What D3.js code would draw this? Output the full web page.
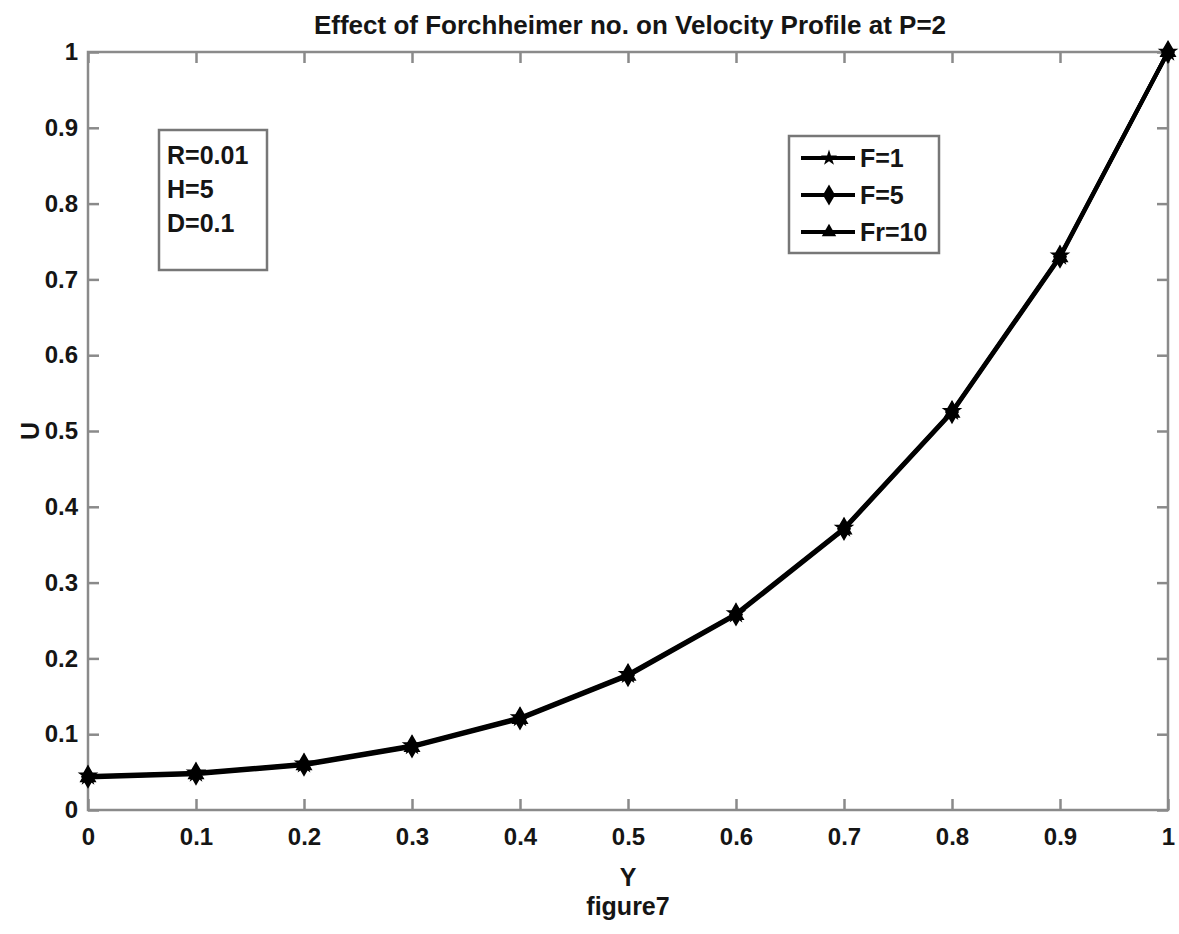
<!DOCTYPE html>
<html>
<head>
<meta charset="utf-8">
<script src="https://cdn.jsdelivr.net/npm/d3@7"></script>
<style>
  body { margin: 0; background: #fff; }
  text { font-family: "Liberation Sans", Arial, sans-serif; font-weight: bold; fill: #151515; }
</style>
</head>
<body>
<svg id="canvas" width="1179" height="934"></svg>
<script>
// values
let yPos = [0, 0.1, 0.2, 0.3, 0.4, 0.5, 0.6, 0.7, 0.8, 0.9, 1]
let uF1  = [0.045, 0.049, 0.061, 0.085, 0.122, 0.179, 0.259, 0.372, 0.526, 0.731, 1.0]
let uF5  = [0.044, 0.048, 0.060, 0.084, 0.121, 0.178, 0.258, 0.371, 0.525, 0.730, 1.0]
let uF10 = [0.043, 0.047, 0.059, 0.083, 0.120, 0.177, 0.257, 0.370, 0.524, 0.729, 1.0]
let seriesNames = ['F=1', 'F=5', 'Fr=10']
let xTicks = [0, 0.1, 0.2, 0.3, 0.4, 0.5, 0.6, 0.7, 0.8, 0.9, 1]
let yTicks = [0, 0.1, 0.2, 0.3, 0.4, 0.5, 0.6, 0.7, 0.8, 0.9, 1]
let infoLines = ['R=0.01', 'H=5', 'D=0.1']

let series = [
  {name: seriesNames[0], vals: uF1, sym: d3.symbolStar, size: 80},
  {name: seriesNames[1], vals: uF5, sym: d3.symbolDiamond, size: 130},
  {name: seriesNames[2], vals: uF10, sym: d3.symbolTriangle, size: 90}
]

let svg = d3.select('#canvas')
let plotL = 88, plotR = 1168, plotT = 52, plotB = 810

let x = d3.scaleLinear().domain([0, 1]).range([plotL, plotR])
let y = d3.scaleLinear().domain([0, 1]).range([plotB, plotT])

// axes box
svg.append('rect')
  .attr('x', plotL).attr('y', plotT)
  .attr('width', plotR - plotL).attr('height', plotB - plotT)
  .attr('fill', 'none').attr('stroke', '#8a8a8a').attr('stroke-width', 2.5)

// bottom and left axes, ticks pointing inward
let xAx = svg.append('g').attr('transform', 'translate(0,' + plotB + ')')
  .call(d3.axisBottom(x).tickValues(xTicks).tickSize(-11).tickPadding(18).tickFormat(d3.format('')))
let yAx = svg.append('g').attr('transform', 'translate(' + plotL + ',0)')
  .call(d3.axisLeft(y).tickValues(yTicks).tickSize(-11).tickPadding(10).tickFormat(d3.format('')))
// mirrored ticks on top and right
svg.append('g').attr('transform', 'translate(0,' + plotT + ')')
  .call(d3.axisTop(x).tickValues(xTicks).tickSize(-11).tickFormat(''))
svg.append('g').attr('transform', 'translate(' + plotR + ',0)')
  .call(d3.axisRight(y).tickValues(yTicks).tickSize(-11).tickFormat(''))

svg.selectAll('.domain').remove()
svg.selectAll('.tick line').attr('stroke', '#8a8a8a').attr('stroke-width', 2.5)
xAx.selectAll('text').attr('font-size', 24).attr('dy', '0.71em')
yAx.selectAll('text').attr('font-size', 24)

// lines + markers
let line = d3.line().x((d, i) => x(yPos[i])).y(d => y(d))
series.forEach(s => {
  svg.append('path').datum(s.vals)
    .attr('d', line)
    .attr('fill', 'none').attr('stroke', '#000').attr('stroke-width', 4)
  svg.selectAll(null).data(s.vals).enter().append('path')
    .attr('d', d3.symbol().type(s.sym).size(s.size))
    .attr('transform', (d, i) => 'translate(' + x(yPos[i]) + ',' + y(d) + ')')
    .attr('fill', '#000').attr('stroke', '#000').attr('stroke-width', 1.5)
})

// title and labels
svg.append('text').attr('x', 630).attr('y', 34).attr('text-anchor', 'middle')
  .attr('font-size', 26).text('Effect of Forchheimer no. on Velocity Profile at P=2')
svg.append('text').attr('x', 628).attr('y', 886).attr('text-anchor', 'middle')
  .attr('font-size', 25).text('Y')
svg.append('text').attr('x', 628).attr('y', 915).attr('text-anchor', 'middle')
  .attr('font-size', 25).text('figure7')
svg.append('text').attr('transform', 'translate(39,431) rotate(-90)').attr('text-anchor', 'middle')
  .attr('font-size', 25).text('U')

// parameter box
svg.append('rect').attr('x', 159).attr('y', 130).attr('width', 108).attr('height', 140)
  .attr('fill', '#fff').attr('stroke', '#777').attr('stroke-width', 2.5)
svg.selectAll(null).data(infoLines).enter().append('text')
  .attr('x', 167).attr('y', (d, i) => 164 + i * 34)
  .attr('font-size', 25).text(d => d)

// legend
let lg = svg.append('g')
lg.append('rect').attr('x', 789).attr('y', 136).attr('width', 150).attr('height', 117)
  .attr('fill', '#fff').attr('stroke', '#777').attr('stroke-width', 2.5)
series.forEach((s, i) => {
  let ly = 158 + i * 37
  lg.append('line').attr('x1', 801).attr('x2', 855).attr('y1', ly).attr('y2', ly)
    .attr('stroke', '#000').attr('stroke-width', 4)
  lg.append('path').attr('d', d3.symbol().type(s.sym).size(s.size))
    .attr('transform', 'translate(829,' + ly + ')').attr('fill', '#000')
  lg.append('text').attr('x', 860).attr('y', ly + 9).attr('font-size', 25).text(s.name)
})
</script>
</body>
</html>
